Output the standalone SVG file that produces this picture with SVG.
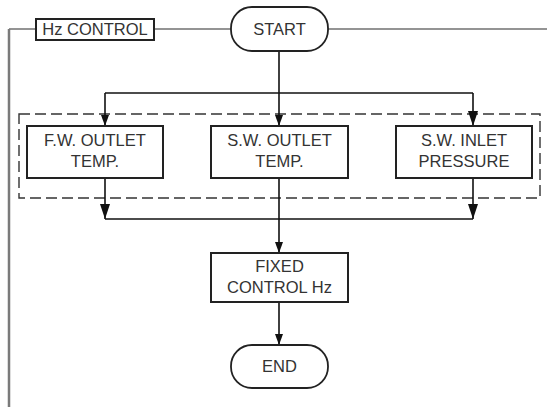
<svg xmlns="http://www.w3.org/2000/svg" width="547" height="407" viewBox="0 0 547 407">
  <style>
    .frame { fill: none; stroke: #707070; stroke-width: 1.5; }
    .frame-side { fill: none; stroke: #7a7a7a; stroke-width: 2.5; }
    .box { fill: #ffffff; stroke: #222222; stroke-width: 2; }
    .term { fill: #ffffff; stroke: #222222; stroke-width: 1.8; }
    .group { fill: none; stroke: #333333; stroke-width: 1.4; stroke-dasharray: 11 5; }
    .wire { fill: none; stroke: #111111; stroke-width: 1.6; }
    .lbl { font-family: "Liberation Sans", Arial, sans-serif; font-size: 16.5px; fill: #333333; text-anchor: middle; }
  </style>
  <defs>
    <marker id="arrowSmall" markerUnits="userSpaceOnUse" markerWidth="12" markerHeight="10" refX="11" refY="4" orient="auto">
      <path d="M0,0 L11,4 L0,8 Z" fill="#111111"/>
    </marker>
    <marker id="arrowLarge" markerUnits="userSpaceOnUse" markerWidth="16" markerHeight="12" refX="15" refY="5" orient="auto">
      <path d="M0,0 L15,5 L0,10 Z" fill="#111111"/>
    </marker>
  </defs>

  <!-- outer frame of the control block -->
  <g id="frame">
    <path class="frame" d="M9,29 H547"/>
    <path class="frame-side" d="M9,29 V407"/>
  </g>

  <!-- dashed grouping around the three inputs -->
  <rect id="input-group" class="group" x="19" y="114" width="521" height="84"/>

  <g id="connectors">
    <path class="wire" d="M279,51 V126" marker-end="url(#arrowSmall)"/>
    <path class="wire" d="M105,93 H473"/>
    <path class="wire" d="M105,93 V126" marker-end="url(#arrowSmall)"/>
    <path class="wire" d="M473,93 V126" marker-end="url(#arrowLarge)"/>
    <path class="wire" d="M105,178 V219" marker-end="url(#arrowLarge)"/>
    <path class="wire" d="M473,178 V219" marker-end="url(#arrowLarge)"/>
    <path class="wire" d="M105,219 H473"/>
    <path class="wire" d="M279,178 V253" marker-end="url(#arrowSmall)"/>
    <path class="wire" d="M279,302 V345" marker-end="url(#arrowSmall)"/>
  </g>

  <g id="title">
    <rect class="box" x="36" y="19" width="118" height="21" stroke-width="1.6"/>
    <text class="lbl" x="95" y="35">Hz CONTROL</text>
  </g>

  <g id="start">
    <rect class="term" x="231" y="7" width="97" height="44" rx="21" ry="21"/>
    <text class="lbl" x="279.5" y="34.5">START</text>
  </g>

  <g id="fw-outlet-temp">
    <rect class="box" x="27" y="126" width="136" height="52"/>
    <text class="lbl" x="95" y="146">F.W. OUTLET</text>
    <text class="lbl" x="95" y="167">TEMP.</text>
  </g>

  <g id="sw-outlet-temp">
    <rect class="box" x="211" y="126" width="137" height="52"/>
    <text class="lbl" x="279.5" y="146">S.W. OUTLET</text>
    <text class="lbl" x="279.5" y="167">TEMP.</text>
  </g>

  <g id="sw-inlet-pressure">
    <rect class="box" x="396" y="126" width="136" height="52"/>
    <text class="lbl" x="464" y="146">S.W. INLET</text>
    <text class="lbl" x="464" y="167">PRESSURE</text>
  </g>

  <g id="fixed-control">
    <rect class="box" x="211" y="253" width="137" height="49"/>
    <text class="lbl" x="279.5" y="272">FIXED</text>
    <text class="lbl" x="279.5" y="293">CONTROL Hz</text>
  </g>

  <g id="end">
    <rect class="term" x="231" y="345" width="97" height="43" rx="21" ry="21"/>
    <text class="lbl" x="279.5" y="372">END</text>
  </g>
</svg>
